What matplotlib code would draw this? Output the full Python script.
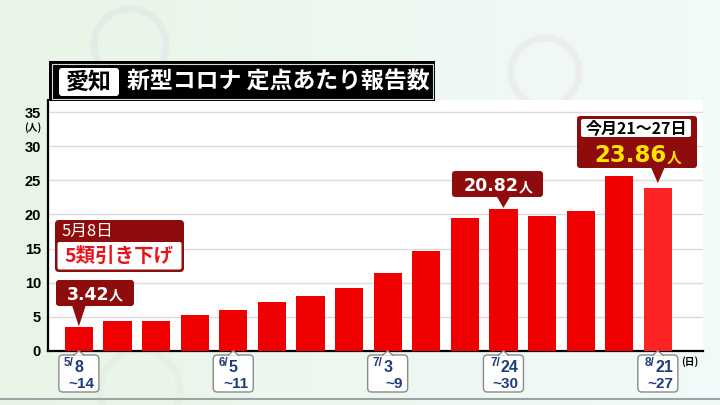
import numpy as np
import matplotlib.pyplot as plt
from matplotlib.patches import Rectangle, FancyBboxPatch, Polygon, Circle
from matplotlib.lines import Line2D
from matplotlib.transforms import Affine2D

plt.rcParams['font.family'] = ['Noto Sans CJK JP', 'DejaVu Sans']

# weekly reports per sentinel site, Aichi (week starting)
weeks = ['5/8', '5/15', '5/22', '5/29', '6/5', '6/12', '6/19', '6/26',
         '7/3', '7/10', '7/17', '7/24', '7/31', '8/7', '8/14', '8/21']
values = [3.42, 4.3, 4.4, 5.3, 6.0, 7.2, 8.0, 9.2,
          11.4, 14.7, 19.5, 20.82, 19.8, 20.5, 25.6, 23.86]

tick_idx = [0, 4, 8, 11, 15]
tick_month = ['5/', '6/', '7/', '7/', '8/']
tick_day = ['8', '5', '3', '24', '21']
tick_end = ['~14', '~11', '~9', '~30', '~27']
y_ticks = [0, 5, 10, 15, 20, 25, 30, 35]

W, H = 720, 405
DARK = '#8e0c0c'
BLUE = '#1f3d7a'

fig = plt.figure(figsize=(7.2, 4.05), dpi=100)
px = Affine2D().scale(1, -1).translate(0, H)   # pixel coords, origin top-left

# background
bg = fig.add_axes([0, 0, 1, 1], zorder=-10)
grad = np.linspace(0, 1, 256)[None, :, None]
c1 = np.array([0.91, 0.96, 0.90])
c2 = np.array([0.95, 0.98, 0.98])
bg.imshow(c1 * (1 - grad) + c2 * grad, aspect='auto', extent=[0, W, H, 0])
for (cx, cy, r, col) in [(130, 45, 36, '#c8b8e0'), (545, 72, 34, '#d8b8c8'),
                         (140, 390, 40, '#d0d8c0')]:
    bg.add_patch(Circle((cx, cy), r, fill=False, ec=col, lw=5, alpha=0.15))
bg.plot([0, W], [399, 399], color='#9ba4a4', lw=1.5)
bg.set_xlim(0, W)
bg.set_ylim(H, 0)
bg.axis('off')

# main chart
ax = fig.add_axes([48 / W, (H - 350.7) / H, (703 - 48) / W, (350.7 - 100) / H])
colors = ['#f00000'] * (len(values) - 1) + ['#ff2424']
ax.bar(np.arange(len(values)), values, width=0.73, color=colors, zorder=3)
ax.set_xlim(-0.8, 16.17)
ax.set_ylim(0, 36.8)
ax.set_yticks(y_ticks)
ax.set_yticklabels([str(v) for v in y_ticks], family='Liberation Sans',
                   fontweight='bold', fontsize=10.5)
ax.tick_params(axis='y', length=0, pad=5)
ax.set_xticks([])
ax.yaxis.grid(True, color='#dcdcdc', lw=1)
ax.set_axisbelow(True)
for s in ['top', 'right']:
    ax.spines[s].set_visible(False)
for s in ['left', 'bottom']:
    ax.spines[s].set_linewidth(1.6)
    ax.spines[s].set_color('black')
ax.set_facecolor('white')


def to_px(xd, yd):
    dx, dy = ax.transData.transform((xd, yd))
    return dx, H - dy


def add(p):
    p.set_transform(px)
    fig.add_artist(p)
    return p


def txt(x, y, s, **kw):
    return fig.text(x, y, s, transform=px, **kw)


# header
add(Rectangle((49, 61), 386, 40, fc='black', ec='none'))
add(Rectangle((51.5, 63.5), 381, 35, fc='none', ec='#d8d8d8', lw=0.8))
add(FancyBboxPatch((59, 68), 60, 28, boxstyle='round,pad=0,rounding_size=3',
                   fc='white', ec='none'))
txt(89, 82, '愛知', ha='center', va='center', fontsize=16.5, fontweight='bold', color='black')
txt(127, 82, '新型コロナ 定点あたり報告数', ha='left', va='center',
    fontsize=16.5, fontweight='bold', color='white')

# axis unit labels
txt(33, 128, '(人)', ha='center', va='center', fontsize=7, fontweight='bold')
txt(690, 362, '(日)', ha='center', va='center', fontsize=7, fontweight='bold')

# x tick boxes
for i, m, d, e in zip(tick_idx, tick_month, tick_day, tick_end):
    cx, _ = to_px(i, 0)
    add(FancyBboxPatch((cx - 20, 355), 40, 37, boxstyle='round,pad=0,rounding_size=4',
                       fc='white', ec='#8a8a8a', lw=1))
    add(Polygon([(cx - 5, 355.6), (cx, 350.8), (cx + 5, 355.6)], closed=True,
                fc='white', ec='none', zorder=3))
    add(Line2D([cx - 5, cx, cx + 5], [355.2, 350.8, 355.2], color='#8a8a8a', lw=1, zorder=4))
    ax_ = cx - 20 + 15 + 2 * (len(d) - 1)
    txt(ax_, 366, m, ha='right', va='baseline', family='Liberation Sans',
        fontweight='bold', fontsize=8.5, color=BLUE)
    txt(ax_ + 0.5, 372, d, ha='left', va='baseline', family='Liberation Sans',
        fontweight='bold', fontsize=11.5, color=BLUE)
    txt(cx + 15, 388.5, e, ha='right', va='baseline', family='Liberation Sans',
        fontweight='bold', fontsize=11, color=BLUE)


def callout(x0, y0, x1, y1, idx, yval, gap=0):
    tx, ty = to_px(idx, yval)
    add(FancyBboxPatch((x0, y0), x1 - x0, y1 - y0, boxstyle='round,pad=0,rounding_size=3',
                       fc=DARK, ec='none', zorder=5))
    add(Polygon([(tx - 7, y1 - 1), (tx + 7, y1 - 1), (tx, ty - gap)], closed=True,
                fc=DARK, ec='none', zorder=5))


# 3.42
callout(56, 280, 134, 306, 0, values[0], gap=1)
txt(109, 299.5, f'{values[0]:.2f}', ha='right', va='baseline', family='DejaVu Sans',
    fontweight='bold', fontsize=12.5, color='white', zorder=6)
txt(109, 299.5, '人', ha='left', va='baseline', fontsize=10, fontweight='bold',
    color='white', zorder=6)

# 20.82
callout(452, 171, 543, 197, 11, values[11], gap=1)
txt(519, 191, f'{values[11]:.2f}', ha='right', va='baseline', family='DejaVu Sans',
    fontweight='bold', fontsize=12.5, color='white', zorder=6)
txt(519, 191, '人', ha='left', va='baseline', fontsize=10, fontweight='bold',
    color='white', zorder=6)

# 23.86 (this week)
callout(577, 116, 697, 168, 15, values[15], gap=5)
add(FancyBboxPatch((581, 119), 110, 18, boxstyle='round,pad=0,rounding_size=2',
                   fc='white', ec='none', zorder=6))
txt(636, 128.5, '今月21～27日', ha='center', va='center', fontsize=11.5,
    fontweight='bold', color='black', zorder=7)
txt(667, 162.5, f'{values[15]:.2f}', ha='right', va='baseline', family='DejaVu Sans',
    fontweight='bold', fontsize=16.5, color='#ffe400', zorder=7)
txt(667, 162.5, '人', ha='left', va='baseline', fontsize=10.5, fontweight='bold',
    color='#ffe400', zorder=7)

# 5類 downgrade note
add(FancyBboxPatch((55, 220), 129, 52, boxstyle='round,pad=0,rounding_size=4',
                   fc=DARK, ec='none', zorder=5))
add(FancyBboxPatch((57.5, 242), 124, 27.5, boxstyle='round,pad=0,rounding_size=2',
                   fc='white', ec='none', zorder=6))
txt(62, 231.5, '5月8日', ha='left', va='center', fontsize=12, color='white', zorder=7)
txt(119.5, 256.5, '5類引き下げ', ha='center', va='center', fontsize=14,
    fontweight='bold', color='#e8141c', zorder=7)

fig.savefig('out.png', dpi=100)
